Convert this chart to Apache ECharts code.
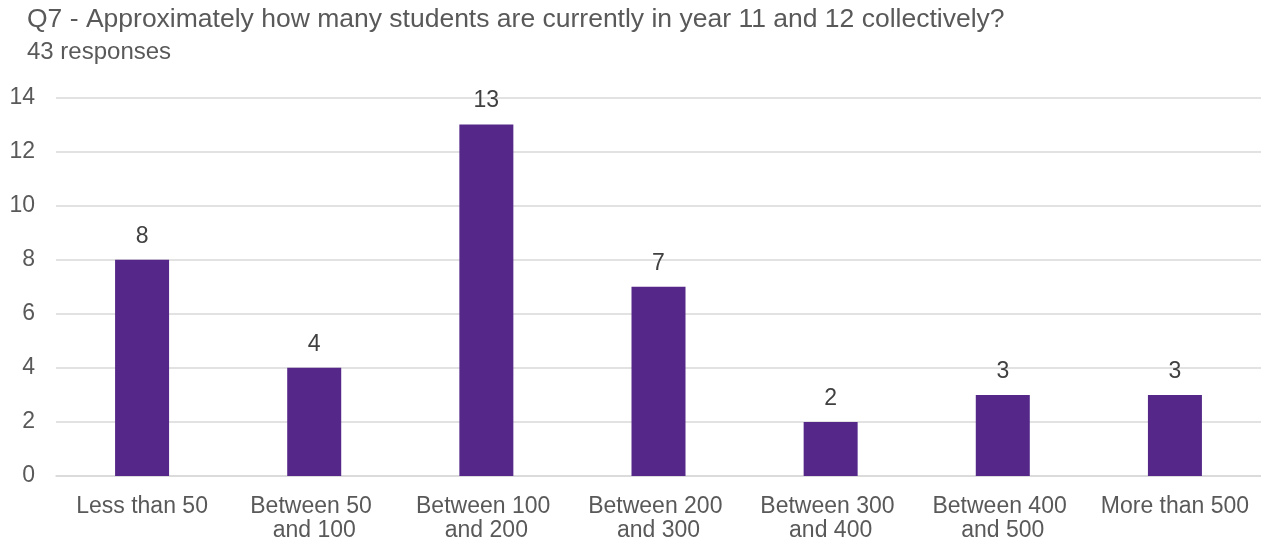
<!DOCTYPE html>
<html>
<head>
<meta charset="utf-8">
<script src="https://cdn.jsdelivr.net/npm/echarts@6/dist/echarts.min.js"></script>
<style>html,body{margin:0;padding:0;background:#fff}#c{width:1261px;height:545px}</style>
</head>
<body>
<div id="c"></div>
<script>
const titleText = 'Q7 - Approximately how many students are currently in year 11 and 12 collectively?';
const subtitleText = '43 responses';
const categories = ['Less than 50', 'Between 50 and 100', 'Between 100 and 200', 'Between 200 and 300', 'Between 300 and 400', 'Between 400 and 500', 'More than 500'];
const values = [8, 4, 13, 7, 2, 3, 3];
const yTicks = { min: 0, max: 14, interval: 2 };

const chart = echarts.init(document.getElementById('c'), null, { renderer: 'canvas' });
const font = '"Liberation Sans", Arial, sans-serif';
chart.setOption({
  animation: false,
  backgroundColor: '#ffffff',
  title: {
    text: titleText,
    subtext: subtitleText,
    left: 22,
    top: 1,
    itemGap: 7,
    textStyle: { fontFamily: font, fontSize: 26.5, fontWeight: 'normal', color: '#595959' },
    subtextStyle: { fontFamily: font, fontSize: 24, color: '#595959' }
  },
  grid: { left: 56, right: 0, top: 97.5, bottom: 69, containLabel: false },
  xAxis: {
    type: 'category',
    data: categories,
    axisLine: { show: true, lineStyle: { color: '#d9d9d9', width: 1.5 } },
    axisTick: { show: false },
    axisLabel: {
      interval: 0,
      margin: 19,
      fontFamily: font,
      fontSize: 23,
      color: '#595959',
      width: 162,
      overflow: 'break',
      lineHeight: 24
    }
  },
  yAxis: {
    type: 'value',
    min: yTicks.min,
    max: yTicks.max,
    interval: yTicks.interval,
    axisLine: { show: false },
    axisTick: { show: false },
    splitLine: { lineStyle: { color: '#d9d9d9', width: 1.5 } },
    axisLabel: { margin: 21, fontFamily: font, fontSize: 23, color: '#595959' }
  },
  series: [{
    type: 'bar',
    data: values,
    barWidth: 54,
    itemStyle: { color: '#542789' },
    label: {
      show: true,
      position: 'top',
      distance: 12,
      fontFamily: font,
      fontSize: 23,
      color: '#404040'
    }
  }]
});
</script>
</body>
</html>
